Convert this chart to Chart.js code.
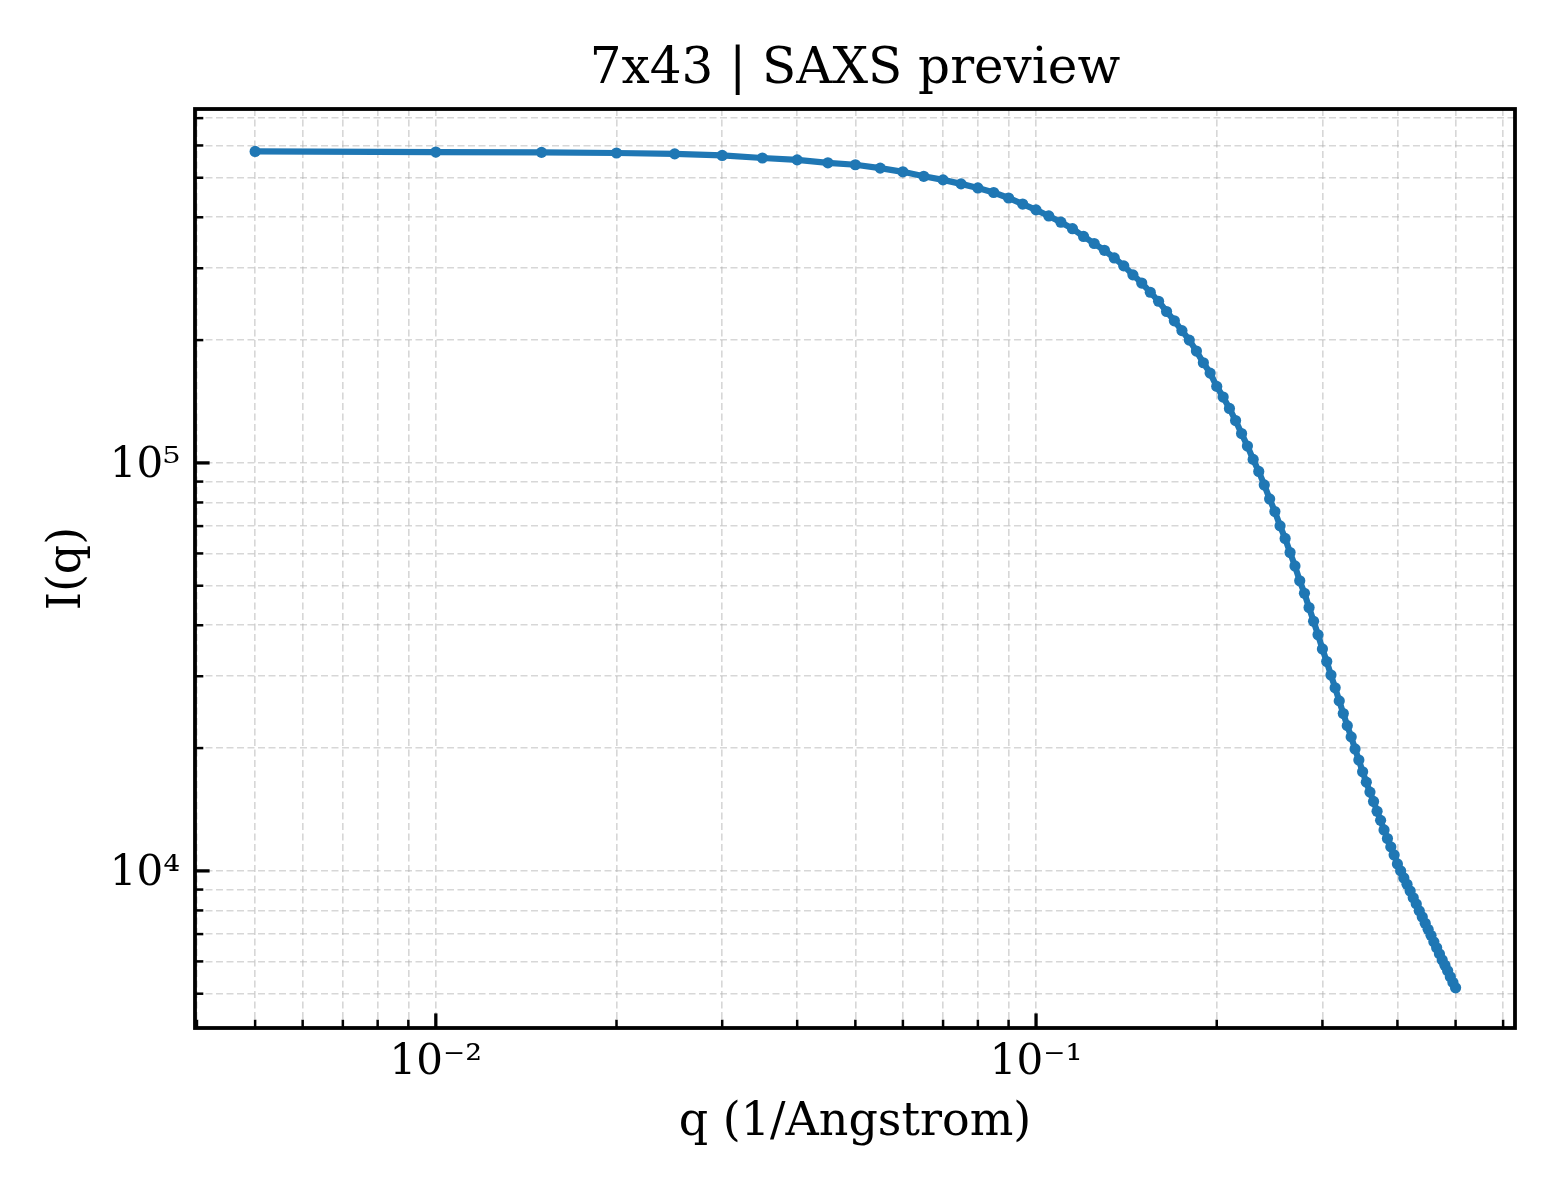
<!DOCTYPE html>
<html>
<head>
<meta charset="utf-8">
<title>7x43 | SAXS preview</title>
<script src="https://cdn.jsdelivr.net/npm/chart.js@4.4.1/dist/chart.umd.min.js"></script>
<style>
  html, body { margin: 0; padding: 0; background: #ffffff; }
  #wrap { width: 1560px; height: 1200px; }
</style>
</head>
<body>
<div id="wrap"><canvas id="saxsChart" width="1560" height="1200"></canvas></div>
<script>
// q in 1/Angstrom
const qValues = [
  0.005, 0.010, 0.015, 0.020, 0.025, 0.030, 0.035, 0.040, 0.045, 0.050,
  0.055, 0.060, 0.065, 0.070, 0.075, 0.080, 0.085, 0.090, 0.095, 0.100,
  0.105, 0.110, 0.115, 0.120, 0.125, 0.130, 0.135, 0.140, 0.145, 0.150,
  0.155, 0.160, 0.165, 0.170, 0.175, 0.180, 0.185, 0.190, 0.195, 0.200,
  0.205, 0.210, 0.215, 0.220, 0.225, 0.230, 0.235, 0.240, 0.245, 0.250,
  0.255, 0.260, 0.265, 0.270, 0.275, 0.280, 0.285, 0.290, 0.295, 0.300,
  0.305, 0.310, 0.315, 0.320, 0.325, 0.330, 0.335, 0.340, 0.345, 0.350,
  0.355, 0.360, 0.365, 0.370, 0.375, 0.380, 0.385, 0.390, 0.395, 0.400,
  0.405, 0.410, 0.415, 0.420, 0.425, 0.430, 0.435, 0.440, 0.445, 0.450,
  0.455, 0.460, 0.465, 0.470, 0.475, 0.480, 0.485, 0.490, 0.495, 0.500
];

// I(q)
const intensity = [
  580000, 578000, 577000, 575000, 572000, 567000, 559000, 553000, 544000, 538000,
  528000, 517000, 504000, 494000, 483000, 472000, 460000, 446000, 431000, 417000,
  403000, 389000, 375000, 359000, 345000, 332000, 318000, 304000, 289000, 276000,
  262000, 249000, 235000, 223000, 211000, 200000, 188000, 176000, 166000, 154000,
  145000, 136000, 127000, 118000, 110000, 102000, 95300, 88300, 81600, 76000,
  70100, 65300, 60300, 55900, 51400, 47900, 44200, 40900, 37900, 35000,
  32600, 30200, 28100, 26100, 24300, 22700, 21300, 19900, 18700, 17500,
  16500, 15600, 14800, 14000, 13300, 12600, 12000, 11450, 10940, 10400,
  10000, 9610, 9270, 8930, 8590, 8300, 7980, 7710, 7440, 7190,
  6950, 6700, 6480, 6260, 6050, 5870, 5690, 5500, 5330, 5170
];

const xMajorTicks = [0.01, 0.1];
const xTickLabels = ['10\u207B\u00B2', '10\u207B\u00B9'];
const xMinorTicks = [0.004, 0.005, 0.006, 0.007, 0.008, 0.009,
  0.02, 0.03, 0.04, 0.05, 0.06, 0.07, 0.08, 0.09,
  0.2, 0.3, 0.4, 0.5, 0.6];

const yMajorTicks = [1e4, 1e5];
const yTickLabels = ['10\u2074', '10\u2075'];
const yMinorTicks = [5000, 6000, 7000, 8000, 9000,
  20000, 30000, 40000, 50000, 60000, 70000, 80000, 90000,
  200000, 300000, 400000, 500000, 600000, 700000];

const serif = "'DejaVu Serif', 'Liberation Serif', serif";
Chart.defaults.font.family = serif;
Chart.defaults.color = '#000000';

const setTicks = (majors, minors) => (scale) => {
  const all = majors.concat(minors).filter(v => v >= scale.min && v <= scale.max);
  all.sort((a, b) => a - b);
  scale.ticks = all.map(v => ({ value: v, major: majors.includes(v) }));
};

// matplotlib style box + inward ticks (bottom and left only)
const frameTicks = {
  id: 'frameTicks',
  afterDraw(chart) {
    const { ctx, chartArea: a } = chart;
    const xs = chart.scales.x, ys = chart.scales.y;
    ctx.save();
    ctx.strokeStyle = '#000000';
    ctx.lineCap = 'butt';
    const tick = (len, w, list, horiz) => {
      ctx.lineWidth = w;
      list.forEach(v => {
        ctx.beginPath();
        if (horiz) {
          const px = xs.getPixelForValue(v);
          if (px < a.left || px > a.right) return;
          ctx.moveTo(px, a.bottom);
          ctx.lineTo(px, a.bottom - len);
        } else {
          const py = ys.getPixelForValue(v);
          if (py < a.top || py > a.bottom) return;
          ctx.moveTo(a.left, py);
          ctx.lineTo(a.left + len, py);
        }
        ctx.stroke();
      });
    };
    tick(8.3, 2.5, xMinorTicks, true);
    tick(14.6, 3.3, xMajorTicks, true);
    tick(8.3, 2.5, yMinorTicks, false);
    tick(14.6, 3.3, yMajorTicks, false);
    ctx.lineWidth = 3.8;
    ctx.strokeRect(a.left, a.top, a.right - a.left, a.bottom - a.top);
    ctx.restore();
  }
};

const gridStyle = {
  color: 'rgba(176,176,176,0.5)',
  lineWidth: 1.6,
  drawTicks: false
};

const ctx = document.getElementById('saxsChart').getContext('2d');
const saxsChart = new Chart(ctx, {
  type: 'line',
  data: {
    datasets: [{
      label: 'I(q)',
      data: qValues.map((q, i) => ({ x: q, y: intensity[i] })),
      borderColor: '#1f77b4',
      backgroundColor: '#1f77b4',
      borderWidth: 6.2,
      pointRadius: 5.6,
      pointBorderWidth: 0,
      pointHoverRadius: 5.6,
      tension: 0,
      fill: false
    }]
  },
  options: {
    responsive: false,
    animation: false,
    devicePixelRatio: 1,
    layout: { padding: { left: 0, right: 45, top: 0, bottom: 0 } },
    plugins: {
      legend: { display: false },
      tooltip: { enabled: false },
      title: {
        display: true,
        fullSize: false,
        text: '7x43 | SAXS preview',
        color: '#000000',
        font: { size: 50, weight: 'normal', family: serif, lineHeight: 1.2 },
        padding: { top: 39.6, bottom: 9.4 }
      }
    },
    scales: {
      x: {
        type: 'logarithmic',
        position: 'bottom',
        min: 0.00397,
        max: 0.628,
        bounds: 'data',
        afterBuildTicks: setTicks(xMajorTicks, xMinorTicks),
        afterFit: (scale) => { scale.height = 172; },
        grid: gridStyle,
        border: { display: false, dash: [7, 3.5] },
        ticks: {
          autoSkip: false,
          maxRotation: 0,
          padding: 10,
          font: { size: 42 },
          callback: (v) => {
            const i = xMajorTicks.indexOf(v);
            return i >= 0 ? xTickLabels[i] : '';
          }
        },
        title: {
          display: true,
          text: 'q (1/Angstrom)',
          font: { size: 46, lineHeight: 1.2 },
          padding: { top: 0, bottom: 49 }
        }
      },
      y: {
        type: 'logarithmic',
        position: 'left',
        min: 4120,
        max: 737000,
        bounds: 'data',
        afterBuildTicks: setTicks(yMajorTicks, yMinorTicks),
        afterFit: (scale) => { scale.width = 195; },
        grid: gridStyle,
        border: { display: false, dash: [7, 3.5] },
        ticks: {
          autoSkip: false,
          padding: 15,
          labelOffset: 3,
          font: { size: 42 },
          callback: (v) => {
            const i = yMajorTicks.indexOf(v);
            return i >= 0 ? yTickLabels[i] : '';
          }
        },
        title: {
          display: true,
          text: 'I(q)',
          font: { size: 46, lineHeight: 1.2 },
          padding: { top: 40.4, bottom: 0 }
        }
      }
    }
  },
  plugins: [frameTicks]
});
</script>
</body>
</html>
